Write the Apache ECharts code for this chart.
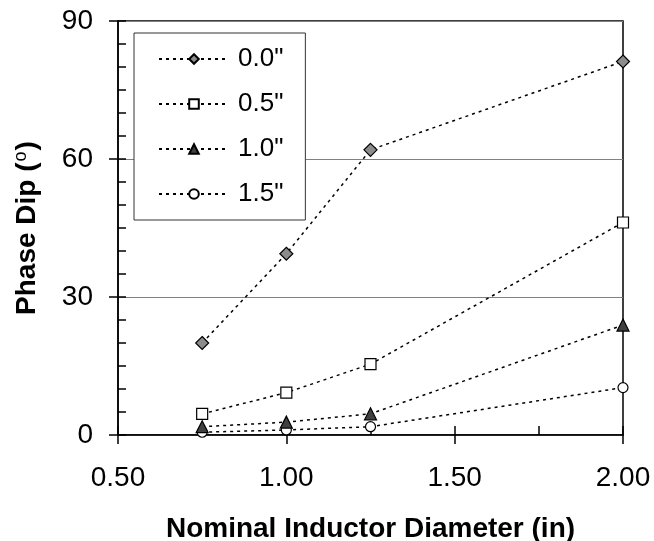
<!DOCTYPE html>
<html>
<head>
<meta charset="utf-8">
<script src="https://cdn.jsdelivr.net/npm/echarts@6/dist/echarts.min.js"></script>
<style>
  html, body { margin: 0; padding: 0; background: #fff; }
  #chart { width: 654px; height: 541px; }
</style>
</head>
<body>
<div id="chart"></div>
<script>
// Inductor diameters (in)
const diameters = [0.75, 1.00, 1.25, 2.00];

// Phase dip (degrees) for each offset
const seriesNames = ['0.0"', '0.5"', '1.0"', '1.5"'];
const dip00 = [20.0, 39.4, 62.0, 81.2];
const dip05 = [4.6, 9.2, 15.4, 46.2];
const dip10 = [1.8, 2.8, 4.6, 23.9];
const dip15 = [0.6, 1.1, 1.8, 10.3];

const xTicks = ['0.50', '1.00', '1.50', '2.00'];
const yTicks = [0, 30, 60, 90];

const FONT = '"Liberation Sans", Arial, sans-serif';

function pairs(vals) {
  return diameters.map((d, i) => [d, vals[i]]);
}

const markerStyles = [
  { symbol: 'diamond', symbolSize: 13, color: '#8c8c8c' },
  { symbol: 'rect', symbolSize: 11, color: '#ffffff' },
  { symbol: 'triangle', symbolSize: 12, color: '#404040' },
  { symbol: 'circle', symbolSize: 10, color: '#ffffff' }
];
const values = [dip00, dip05, dip10, dip15];

const series = seriesNames.map((name, k) => ({
  name: name,
  type: 'line',
  xAxisIndex: 0,
  yAxisIndex: 0,
  data: pairs(values[k]),
  symbol: markerStyles[k].symbol,
  symbolSize: markerStyles[k].symbolSize,
  showAllSymbol: true,
  lineStyle: { color: '#000', width: 1.5, type: [3, 4] },
  itemStyle: { color: markerStyles[k].color, borderColor: '#000', borderWidth: 1.2 },
  z: 5 - k,
  animation: false
}));

const chart = echarts.init(document.getElementById('chart'), null, { renderer: 'canvas' });
chart.setOption({
  animation: false,
  backgroundColor: '#fff',
  textStyle: { fontFamily: FONT },
  grid: {
    left: 118, right: 31, top: 21, bottom: 106,
    containLabel: false,
    outerBoundsMode: 'none',
    show: true, borderColor: '#000', borderWidth: 1.5, backgroundColor: 'transparent'
  },
  legend: {
    orient: 'vertical',
    left: 134, top: 33,
    padding: [13, 22, 13, 24],
    itemWidth: 70, itemHeight: 12,
    itemGap: 19,
    backgroundColor: '#fff',
    borderColor: '#333',
    borderWidth: 1,
    textStyle: { fontSize: 26, color: '#000', fontFamily: FONT, padding: [0, 0, 0, 4] },
    data: seriesNames
  },
  xAxis: [
    {
      type: 'value', min: 0.5, max: 2.0, interval: 0.5,
      position: 'bottom',
      axisLine: { show: true, onZero: false, lineStyle: { color: '#000', width: 1.5 } },
      axisTick: { show: true, inside: true, length: 9, lineStyle: { color: '#000', width: 1.5 } },
      minorTick: { show: true, splitNumber: 2, length: 9, lineStyle: { color: '#000', width: 1.5 } },
      splitLine: { show: false },
      axisLabel: {
        fontSize: 28, color: '#000', margin: 29, fontFamily: FONT,
        formatter: v => xTicks.find(t => Math.abs(parseFloat(t) - v) < 1e-6) || ''
      },
      name: 'Nominal Inductor Diameter (in)',
      nameLocation: 'middle',
      nameGap: 80,
      nameTextStyle: { fontSize: 28, fontWeight: 'bold', color: '#000', fontFamily: FONT }
    },
    {
      type: 'value', min: 0.5, max: 2.0, interval: 0.5,
      position: 'bottom', offset: 0,
      axisLine: { show: false },
      axisTick: { show: true, inside: false, length: 9, lineStyle: { color: '#000', width: 1.5 } },
      axisLabel: { show: false },
      splitLine: { show: false }
    }
  ],
  yAxis: [
    {
      type: 'value', min: 0, max: 90, interval: 30,
      position: 'left',
      axisLine: { show: true, onZero: false, lineStyle: { color: '#000', width: 1.5 } },
      axisTick: { show: true, inside: true, length: 8, lineStyle: { color: '#000', width: 1.5 } },
      minorTick: { show: true, splitNumber: 6, length: 8, lineStyle: { color: '#000', width: 1.5 } },
      splitLine: {
        show: true,
        lineStyle: { color: '#808080', width: 1.2 }
      },
      axisLabel: {
        fontSize: 28, color: '#000', margin: 25, fontFamily: FONT,
        formatter: v => (yTicks.indexOf(v) >= 0 ? String(v) : '')
      },
      name: '{t|Phase Dip (}{s|o}{t|)}',
      nameLocation: 'middle',
      nameGap: 76,
      nameRotate: 90,
      nameTextStyle: {
        rich: {
          t: { fontSize: 28, lineHeight: 30, fontWeight: 'bold', color: '#000', fontFamily: FONT },
          s: { fontSize: 18, lineHeight: 18, fontWeight: 'normal', color: '#000', fontFamily: FONT, verticalAlign: 'top', padding: [0, 1, 0, 1] }
        }
      }
    },
    {
      type: 'value', min: 0, max: 90, interval: 30,
      position: 'left', offset: 0,
      axisLine: { show: false },
      axisTick: { show: true, inside: false, length: 9, lineStyle: { color: '#000', width: 1.5 } },
      axisLabel: { show: false },
      splitLine: { show: false }
    }
  ],
  series: series
});
</script>
</body>
</html>
